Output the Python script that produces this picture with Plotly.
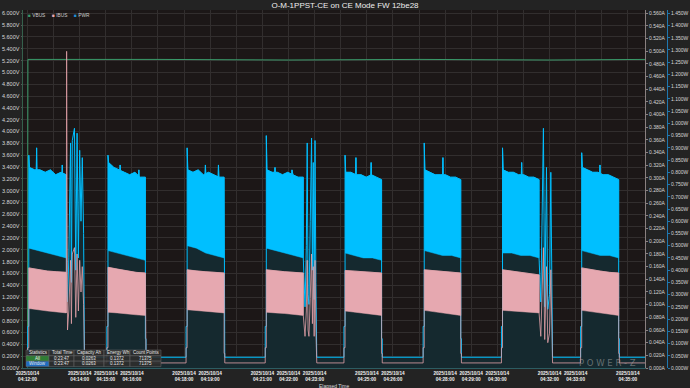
import numpy as np
import pandas as pd
import plotly.graph_objects as go

T0 = pd.Timestamp("2025-10-14 04:12:00")

# ---------------- data (seconds after 04:12:00) ----------------
block_start_s = [3, 185, 367, 549, 730, 912, 1092, 1274]
block_end_s = [89, 271, 452, 634, 814, 996, 1176, 1359]
data_end_s = 1421

# PWR (W): spike at start of each active block, upper edge, lower edge of the dense band
pwr_start_spike = [0.87, 0.87, 0.90, 0.95, 0.87, 0.92, 0.90, 0.88]
pwr_edge = [
    [0.82, 0.81, 0.81, 0.80, 0.81, 0.79, 0.80, 0.79],
    [0.84, 0.82, 0.81, 0.80, 0.79, 0.80, 0.78, 0.78],
    [0.81, 0.80, 0.81, 0.79, 0.80, 0.79, 0.78, 0.78],
    [0.81, 0.80, 0.80, 0.79, 0.80, 0.79, 0.78, 0.78],
    [0.80, 0.80, 0.79, 0.79, 0.78, 0.79, 0.78, 0.77],
    [0.81, 0.80, 0.79, 0.79, 0.79, 0.78, 0.78, 0.77],
    [0.81, 0.80, 0.80, 0.79, 0.79, 0.78, 0.78, 0.77],
    [0.82, 0.81, 0.80, 0.80, 0.79, 0.79, 0.78, 0.77],
]
pwr_spike_s = [[21, 80], [213, 256], [409, 439], [569, 608], [755, 790], [955], [1136], [1316]]
pwr_spike_w = [[0.90, 0.83], [0.83, 0.81], [0.83, 0.83], [0.82, 0.81], [0.86, 0.84], [0.86], [0.84], [0.83]]
pwr_lower = [
    [0.49, 0.48, 0.47, 0.46, 0.45],
    [0.48, 0.47, 0.46, 0.45, 0.44],
    [0.50, 0.49, 0.47, 0.46, 0.45],
    [0.49, 0.48, 0.47, 0.46, 0.45],
    [0.47, 0.46, 0.45, 0.45, 0.44],
    [0.48, 0.47, 0.46, 0.46, 0.45],
    [0.47, 0.47, 0.46, 0.46, 0.45],
    [0.48, 0.47, 0.46, 0.46, 0.45],
]

# IBUS (A): upper / lower edge of the dense band
ibus_upper = [
    [0.158, 0.155, 0.153, 0.152, 0.151],
    [0.159, 0.156, 0.153, 0.151, 0.150],
    [0.155, 0.153, 0.152, 0.151, 0.150],
    [0.155, 0.153, 0.152, 0.151, 0.150],
    [0.154, 0.153, 0.152, 0.151, 0.150],
    [0.155, 0.154, 0.152, 0.151, 0.150],
    [0.155, 0.153, 0.151, 0.149, 0.147],
    [0.158, 0.155, 0.153, 0.151, 0.150],
]
ibus_lower = [
    [0.094, 0.092, 0.090, 0.088, 0.087],
    [0.088, 0.087, 0.086, 0.084, 0.083],
    [0.092, 0.090, 0.089, 0.088, 0.087],
    [0.088, 0.087, 0.086, 0.085, 0.083],
    [0.090, 0.088, 0.087, 0.085, 0.083],
    [0.091, 0.089, 0.087, 0.085, 0.083],
    [0.091, 0.090, 0.089, 0.088, 0.087],
    [0.091, 0.089, 0.087, 0.085, 0.083],
]

# bursts of spikes following some blocks
spike_after_block = [0, 3, 6]
spike1_s = [89, 90, 92, 95, 99, 101, 103, 108, 111, 114, 117, 120, 123, 126, 129, 131]
spike1_pwr = [0.45, 0.30, 0.27, 0.45, 0.92, 0.35, 0.93, 0.98, 0.40, 0.96, 0.45, 0.89, 0.60, 0.86, 0.55, 0.044]
spike1_ibus = [0.087, 0.50, 0.06, 0.09, 0.17, 0.07, 0.18, 0.19, 0.08, 0.18, 0.09, 0.17, 0.12, 0.16, 0.10, 0.008]
spike2_s = [634, 636, 638, 641, 643, 645, 647, 650, 653, 655, 657, 659, 661, 663, 665]
spike2_pwr = [0.45, 0.30, 0.25, 0.50, 0.92, 0.30, 0.26, 0.60, 0.94, 0.40, 0.84, 0.28, 0.93, 0.35, 0.044]
spike2_ibus = [0.083, 0.06, 0.05, 0.09, 0.17, 0.06, 0.05, 0.11, 0.18, 0.07, 0.16, 0.05, 0.17, 0.06, 0.008]
spike3_s = [1176, 1180, 1186, 1189, 1193, 1196, 1200, 1203, 1207]
spike3_pwr = [0.45, 0.27, 0.98, 0.25, 0.82, 0.24, 0.30, 0.80, 0.044]
spike3_ibus = [0.087, 0.05, 0.19, 0.045, 0.16, 0.04, 0.055, 0.155, 0.008]

idle_pwr, pre_pwr, post_pwr = 0.044, 0.17, 0.12
idle_ibus, pre_ibus, post_ibus = 0.008, 0.032, 0.023

vbus_s = [0, 1, 300, 600, 900, 1200, data_end_s]
vbus_v = [0.0, 5.22, 5.22, 5.21, 5.22, 5.21, 5.22]

tick_minutes = list(range(12, 36))
tick_labeled = [12, 14, 15, 16, 18, 19, 21, 22, 23, 25, 26, 28, 29, 30, 32, 33, 35]

stats_header = ["Statistics", "Total Time", "Capacity Ah", "Energy Wh", "Count Points"]
stats_all = ["All", "0:23:47", "0.0263", "0.1372", "71375"]
stats_window = ["Window", "0:23:47", "0.0263", "0.1372", "71375"]

# ---------------- helpers ----------------
def tt(secs):
    return [None if s is None else T0 + pd.Timedelta(seconds=float(s)) for s in secs]


def pwr_upper_pts(i):
    s, e = block_start_s[i], block_end_s[i]
    te = np.linspace(s + 1.5, e, len(pwr_edge[i]))
    ve = np.array(pwr_edge[i])
    pts = [(float(s), pwr_start_spike[i])] + [(float(a), float(b)) for a, b in zip(te, ve)]
    for ts_, w in zip(pwr_spike_s[i], pwr_spike_w[i]):
        b0, b1 = np.interp([ts_ - 0.8, ts_ + 0.8], te, ve)
        pts += [(ts_ - 0.8, float(b0)), (float(ts_), w), (ts_ + 0.8, float(b1))]
    pts.sort()
    return [p[0] for p in pts], [p[1] for p in pts]


def simple_pts(arr):
    def f(i):
        s, e = block_start_s[i], block_end_s[i]
        return list(np.linspace(s, e, len(arr[i]))), list(arr[i])
    return f


def build_series(get_upper, idle, pre, post, sp_s, sp_v):
    t, v = [0.0], [idle]
    for i in range(len(block_start_s)):
        s, e = block_start_s[i], block_end_s[i]
        t += [s - 2.5, s - 2.5, s]
        v += [idle, pre, pre]
        tu, vu = get_upper(i)
        t += tu
        v += vu
        if i in spike_after_block:
            j = spike_after_block.index(i)
            t += sp_s[j]
            v += sp_v[j]
        else:
            t += [e, e + 1.5, e + 1.5]
            v += [post, post, idle]
    t.append(data_end_s)
    v.append(idle)
    return tt(t), v


def band(get_upper, get_lower):
    xs, ys = [], []
    for i in range(len(block_start_s)):
        tu, vu = get_upper(i)
        tl, vl = get_lower(i)
        xs += tt(list(tu) + list(tl)[::-1]) + [None]
        ys += list(vu) + list(vl)[::-1] + [None]
    return xs, ys


# ---------------- figure ----------------
fig = go.Figure()

BLUE = "#00bfff"
PINK = "#e6a8b0"

# VBUS (left axis)
fig.add_trace(go.Scatter(x=tt(vbus_s), y=vbus_v, mode="lines", yaxis="y",
                         line=dict(color="#3a9a6a", width=1), hoverinfo="skip"))

# PWR (outer right axis) -> y2 drawn below IBUS
px_, py_ = build_series(pwr_upper_pts, idle_pwr, pre_pwr, post_pwr,
                        [spike1_s, spike2_s, spike3_s], [spike1_pwr, spike2_pwr, spike3_pwr])
fig.add_trace(go.Scatter(x=px_, y=py_, mode="lines", yaxis="y2", fill="tozeroy",
                         fillcolor="#15292f", line=dict(color=BLUE, width=1), hoverinfo="skip"))
bx, by = band(pwr_upper_pts, simple_pts(pwr_lower))
fig.add_trace(go.Scatter(x=bx, y=by, mode="lines", yaxis="y2", fill="toself",
                         fillcolor=BLUE, line=dict(color=BLUE, width=0.5), hoverinfo="skip"))

# IBUS (inner right axis) -> y3
ix, iy = build_series(simple_pts(ibus_upper), idle_ibus, pre_ibus, post_ibus,
                      [spike1_s, spike2_s, spike3_s], [spike1_ibus, spike2_ibus, spike3_ibus])
fig.add_trace(go.Scatter(x=ix, y=iy, mode="lines", yaxis="y3",
                         line=dict(color="rgba(226,160,168,0.8)", width=1), hoverinfo="skip"))
ibx, iby = band(simple_pts(ibus_upper), simple_pts(ibus_lower))
fig.add_trace(go.Scatter(x=ibx, y=iby, mode="lines", yaxis="y3", fill="toself",
                         fillcolor=PINK, line=dict(color=PINK, width=0.5), hoverinfo="skip"))

# ---------------- layout ----------------
W, H = 690, 388
ML, MR, MT, MB = 23, 23, 10, 20
PW = W - ML - MR
PH = H - MT - MB
plot_right_px = 645
scale = 1.0093  # axis max sits a little below plot top


def xp(px):
    return (px - ML) / PW


def yp(py):
    return (H - MB - py) / PH


tickvals = [T0 + pd.Timedelta(minutes=m - 12) for m in tick_minutes]
ticktext = [f"2025/10/14<br>04:{m:02d}:00" if m in tick_labeled else "" for m in tick_minutes]

GRID = "#322e2e"
fig.update_layout(
    width=W, height=H,
    margin=dict(l=ML, r=MR, t=MT, b=MB, pad=0, autoexpand=False),
    paper_bgcolor="#232323", plot_bgcolor="#1c1717",
    showlegend=False,
    font=dict(family="Arial", color="#dddddd"),
    title=dict(text="O-M-1PPST-CE on CE Mode FW 12be28", x=0.5, xref="container",
               y=1 - 5.5 / H, yref="container", xanchor="center", yanchor="middle",
               automargin=False, font=dict(size=8, color="#eeeeee")),
    xaxis=dict(type="date", domain=[0, xp(plot_right_px)], automargin=False,
               range=[T0 - pd.Timedelta(seconds=10.3), T0 + pd.Timedelta(seconds=1419.5)],
               tickmode="array", tickvals=tickvals, ticktext=ticktext, tickangle=0,
               tickfont=dict(size=4.7, color="#f2f2f2", weight="bold"),
               showgrid=True, gridcolor=GRID, gridwidth=1, zeroline=False,
               showline=True, linecolor="#2c5c62", ticks=""),
    yaxis=dict(range=[0, 6.0 * scale], tick0=0, dtick=0.2, tickformat=".3f", ticksuffix="V",
               automargin=False,
               showgrid=True, gridcolor=GRID, zeroline=False,
               showline=True, linecolor="#35604c", ticks="outside", ticklen=1.5, tickcolor="#555",
               tickfont=dict(size=5.5, color="#d8d8d8")),
    yaxis2=dict(overlaying="y", side="right", anchor="free", position=1.0, automargin=False,
                range=[0, 1.45 * scale], tick0=0, dtick=0.05, tickformat=".3f", ticksuffix="W",
                showgrid=False, zeroline=False, showline=True, linecolor="#1f78b0",
                ticks="outside", ticklen=2, tickcolor="#1f78b0",
                tickfont=dict(size=5, color="#d8d8d8")),
    yaxis3=dict(overlaying="y", side="right", anchor="x", automargin=False,
                range=[0, 0.56 * scale], tick0=0, dtick=0.02, tickformat=".3f", ticksuffix="A",
                showgrid=False, zeroline=False, showline=True, linecolor="#8a8080",
                ticks="outside", ticklen=2, tickcolor="#8a8080",
                tickfont=dict(size=5, color="#d8d8d8")),
)

annotations = []
shapes = []

# legend
for name, col, lx in [("VBUS", "#3a9a6a", 25.8), ("IBUS", "#e8a8b0", 49.5), ("PWR", "#1f8fd6", 71.8)]:
    annotations.append(dict(x=xp(lx), y=yp(15.3), xref="paper", yref="paper",
                            text=f'<span style="color:{col}">■</span> {name}',
                            showarrow=False, xanchor="left", yanchor="middle",
                            font=dict(size=4.8, color="#cccccc")))

# x-axis title
annotations.append(dict(x=xp(334), y=yp(385.5), xref="paper", yref="paper", text="Elapsed Time",
                        showarrow=False, xanchor="center", yanchor="middle",
                        font=dict(size=5, color="#dddddd")))

# watermark
annotations.append(dict(x=xp(607), y=yp(363.3), xref="paper", yref="paper", text="P O W E R - Z",
                        showarrow=False, xanchor="center", yanchor="middle",
                        font=dict(size=8.5, color="rgba(170,170,170,0.55)", family="DejaVu Sans")))

# statistics table
cols = [26, 49, 74, 104, 130, 161]
rows = [350, 355.8, 361.2, 366.6]
table = [stats_header, stats_all, stats_window]
for r, row in enumerate(table):
    for c, txt in enumerate(row):
        fill = "rgba(45,45,45,0.9)"
        if r == 1 and c == 0:
            fill = "#2f7d34"
        elif r == 2 and c == 0:
            fill = "#1f6cc0"
        shapes.append(dict(type="rect", xref="paper", yref="paper", layer="above",
                           x0=xp(cols[c]), x1=xp(cols[c + 1]), y0=yp(rows[r + 1]), y1=yp(rows[r]),
                           fillcolor=fill, line=dict(color="#6a6a6a", width=0.5)))
        if r == 0:
            ax, anc = xp(cols[c] + 1), "left"
        else:
            ax, anc = xp((cols[c] + cols[c + 1]) / 2), "center"
        annotations.append(dict(x=ax, y=yp((rows[r] + rows[r + 1]) / 2), xref="paper", yref="paper",
                                text=txt, showarrow=False, xanchor=anc, yanchor="middle",
                                font=dict(size=4.5, color="#e6e6e6")))

fig.update_layout(annotations=annotations, shapes=shapes)

fig.write_html("out.html")
